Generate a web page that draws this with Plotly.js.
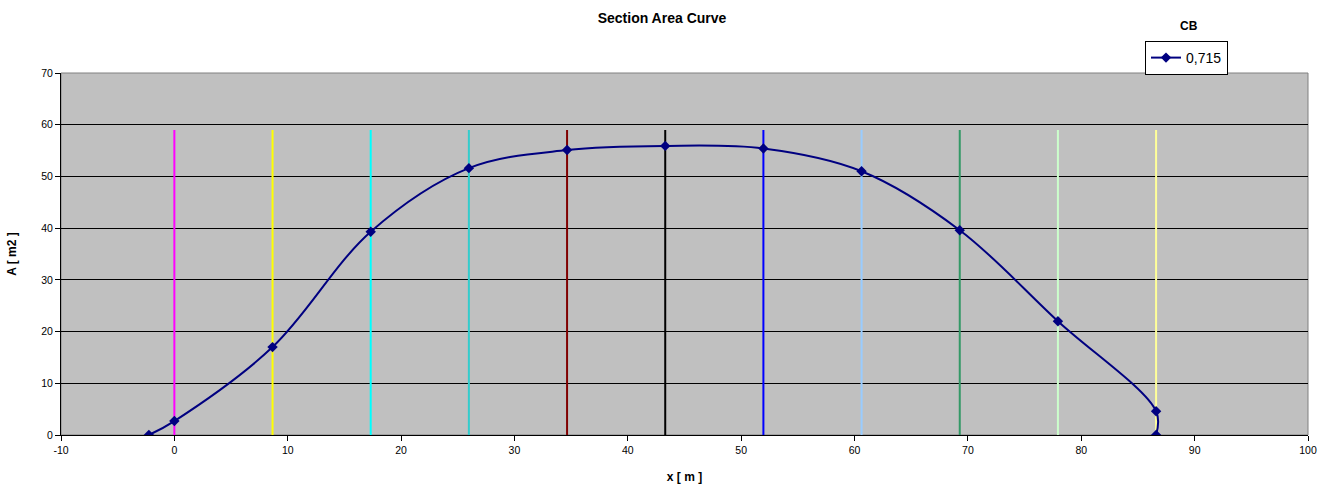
<!DOCTYPE html>
<html>
<head>
<meta charset="utf-8">
<script src="https://cdn.plot.ly/plotly-3.0.1.min.js"></script>
<style>html,body{margin:0;padding:0;background:#fff;}#chart{width:1328px;height:485px;}</style>
</head>
<body>
<div id="chart"></div>
<script>
// Section area curve data
const xPos = [-2.25, 0, 8.66, 17.32, 25.98, 34.64, 43.3, 51.96, 60.62, 69.28, 77.94, 86.6, 86.6];
const areaVals = [0, 2.7, 17.0, 39.3, 51.6, 55.1, 55.9, 55.4, 51.0, 39.6, 22.0, 4.6, 0];
const seriesName = "0,715";

// Station lines
const stations = [0, 8.66, 17.32, 25.98, 34.64, 43.3, 51.96, 60.62, 69.28, 77.94, 86.6];
const stationColors = ["#FF00FF", "#FFFF00", "#00FFFF", "#33CCCC", "#800000", "#000000", "#0000FF", "#99CCFF", "#339966", "#CCFFCC", "#FFFF99"];
const stationTop = 59;

// Tick labels
const xTickVals = [-10, 0, 10, 20, 30, 40, 50, 60, 70, 80, 90, 100];
const xTickText = ["-10", "0", "10", "20", "30", "40", "50", "60", "70", "80", "90", "100"];

const traces = [];
stations.forEach((s, i) => {
  traces.push({
    x: [s, s], y: [0, stationTop], mode: "lines", type: "scatter",
    line: {color: stationColors[i], width: 2}, showlegend: false, hoverinfo: "skip"
  });
});
traces.push({
  x: xPos, y: areaVals, name: seriesName, type: "scatter", mode: "lines+markers",
  line: {color: "#000080", width: 2, shape: "spline", smoothing: 1},
  marker: {symbol: "diamond", size: 8, color: "#000080"}
});

const PW = 1247, PH = 362;
const layout = {
  width: 1328, height: 485,
  margin: {l: 61, r: 20, t: 73, b: 50},
  paper_bgcolor: "#ffffff",
  plot_bgcolor: "#C0C0C0",
  font: {family: "Liberation Sans, Arial, sans-serif", size: 11, color: "#000"},
  title: {text: "<b>Section Area Curve</b>", x: 0.4985, xanchor: "center", y: 0.963, yanchor: "middle", font: {size: 14}},
  xaxis: {
    range: [-10, 100], tickmode: "array", tickvals: xTickVals, ticktext: xTickText,
    showgrid: false, zeroline: false,
    showline: true, linecolor: "#000", linewidth: 1, ticks: "outside", ticklen: 5, tickcolor: "#000",
    mirror: false, tickfont: {size: 10.5},
    title: {text: "<b>x [ m ]</b>", font: {size: 12}, standoff: 18}
  },
  yaxis: {
    range: [0, 70], dtick: 10, showgrid: true, gridcolor: "#000", gridwidth: 1, zeroline: false,
    showline: true, linecolor: "#000", linewidth: 1, ticks: "outside", ticklen: 5, tickcolor: "#000",
    tickfont: {size: 10.5},
    title: {text: "<b>A [ m2 ]</b>", font: {size: 12}, standoff: 22}
  },
  shapes: [
    {type: "rect", xref: "paper", yref: "paper", x0: 0, x1: 1, y0: 0, y1: 1, line: {color: "#808080", width: 1}, layer: "below"}
  ],
  legend: {
    x: (1145-61)/PW, y: 1 + (73-41)/PH, xanchor: "left", yanchor: "top",
    bgcolor: "#fff", bordercolor: "#000", borderwidth: 1, font: {size: 14},
    itemwidth: 30, tracegroupgap: 0
  },
  annotations: [
    {text: "<b>CB</b>", xref: "paper", yref: "paper", x: (1189-61)/PW, y: 1 + (73-26)/PH, showarrow: false, font: {size: 12}, xanchor: "center", yanchor: "middle"}
  ],
  showlegend: true
};

Plotly.newPlot("chart", traces, layout, {displayModeBar: false, staticPlot: true});
</script>
</body>
</html>
